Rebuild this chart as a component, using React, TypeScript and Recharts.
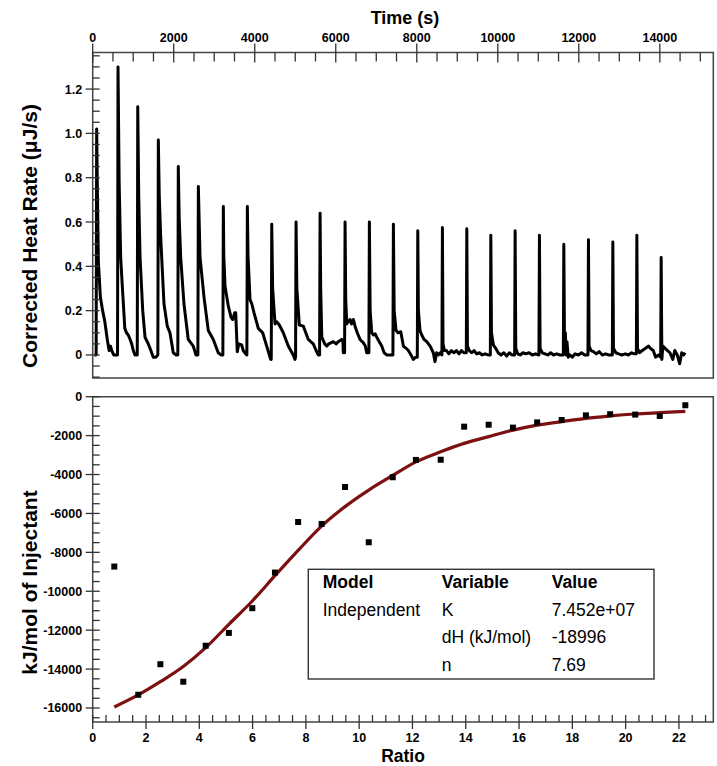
import React from 'react';
import { LineChart, Line, XAxis, YAxis, ReferenceArea, ComposedChart, Scatter } from 'recharts';

// ---------- Top panel: raw thermogram ----------
// peak (injection) times in seconds
const injectionTimes = [
  98, 625, 1112, 1620, 2113, 2608, 3225, 3818, 4420, 5020, 5613, 6230, 6830,
  7423, 8025, 8633, 9235, 9828, 10428, 11028, 11630, 12238, 12840, 13433, 14033,
];
// trace around each injection: [seconds relative to peak, heat rate µJ/s]
const injectionProfiles: number[][][] = [
  [[-58, 0], [-13, 0], [0, 1.02], [17, 0.75], [42, 0.42], [92, 0.26], [147, 0.2], [202, 0.15], [262, 0.07], [307, 0.02], [342, 0.04], [372, 0.02], [422, 0.0], [500, 0.0]],
  [[-12, 0], [0, 1.3], [28, 0.78], [66, 0.44], [106, 0.31], [168, 0.12], [208, 0.1], [253, 0.09], [298, 0.07], [338, 0.05], [378, 0.02], [418, 0.0], [460, 0.0]],
  [[-12, 0], [0, 1.12], [24, 0.72], [57, 0.44], [123, 0.2], [180, 0.08], [260, 0.05], [324, 0.02], [383, -0.01], [450, -0.01], [494, 0.0]],
  [[-12, 0], [0, 0.97], [23, 0.72], [59, 0.53], [140, 0.23], [221, 0.13], [287, 0.1], [369, 0.01], [440, 0.0], [475, 0.0]],
  [[-12, 0], [0, 0.85], [22, 0.62], [59, 0.44], [140, 0.23], [246, 0.07], [369, 0.04], [437, 0.0], [480, 0.0]],
  [[-12, 0], [0, 0.76], [42, 0.44], [140, 0.26], [246, 0.11], [369, 0.07], [491, 0.01], [558, 0.0], [600, 0.0]],
  [[-12, 0], [0, 0.67], [11, 0.45], [42, 0.31], [123, 0.22], [191, 0.17], [231, 0.16], [281, 0.19], [305, 0.19], [344, 0.015], [381, 0.05], [452, 0.045], [491, 0.02], [533, 0.01], [578, 0.0]],
  [[-12, 0], [0, 0.67], [16, 0.45], [66, 0.25], [111, 0.23], [165, 0.19], [270, 0.12], [378, 0.1], [477, 0.04], [575, -0.02], [588, -0.02]],
  [[-12, -0.01], [0, 0.59], [22, 0.3], [81, 0.14], [122, 0.15], [187, 0.135], [285, 0.1], [408, 0.04], [531, 0.0], [573, -0.02], [585, -0.01]],
  [[-12, -0.01], [0, 0.6], [20, 0.3], [81, 0.135], [180, 0.13], [302, 0.07], [425, 0.05], [495, 0.02], [548, 0.0], [578, 0.0]],
  [[-12, 0], [0, 0.64], [15, 0.3], [42, 0.08], [115, 0.05], [165, 0.04], [215, 0.05], [327, 0.06], [395, 0.05], [450, 0.06], [533, 0.07], [565, 0.06], [573, 0.01], [602, 0.01]],
  [[-12, 0.01], [0, 0.6], [16, 0.25], [41, 0.14], [81, 0.15], [123, 0.16], [161, 0.14], [205, 0.16], [246, 0.13], [301, 0.1], [369, 0.07], [451, 0.055], [501, 0.04], [533, 0.01], [585, 0.01]],
  [[-12, 0.01], [0, 0.6], [19, 0.2], [59, 0.1], [104, 0.09], [144, 0.095], [182, 0.08], [244, 0.06], [305, 0.04], [364, 0.01], [428, 0.0], [550, 0.0], [578, 0.0]],
  [[-12, 0], [0, 0.59], [19, 0.2], [66, 0.11], [114, 0.1], [182, 0.105], [246, 0.04], [314, 0.03], [369, 0.02], [434, 0.0], [491, -0.02], [554, -0.01], [587, -0.01]],
  [[-12, -0.01], [0, 0.56], [15, 0.2], [55, 0.11], [98, 0.09], [155, 0.07], [221, 0.06], [305, 0.04], [383, 0.01], [425, -0.03], [465, 0.01], [506, 0.0], [555, 0.01], [593, 0.0]],
  [[-12, 0], [0, 0.575], [15, 0.05], [50, 0.02], [100, 0.02], [160, 0.005], [220, 0.02], [280, 0.01], [345, 0.02], [410, 0.005], [470, 0.02], [530, 0.01], [587, 0.01]],
  [[-12, 0.01], [0, 0.57], [16, 0.04], [61, 0.02], [121, 0.01], [181, 0.02], [241, 0.005], [311, 0.01], [381, 0.0], [451, 0.005], [521, 0.0], [578, 0.0]],
  [[-12, 0], [0, 0.54], [16, 0.1], [64, 0.045], [121, 0.03], [181, 0.01], [251, 0.0], [321, 0.01], [391, -0.005], [461, 0.01], [521, 0.0], [585, 0.0]],
  [[-12, 0], [0, 0.56], [16, 0.03], [64, 0.005], [124, 0.0], [194, 0.01], [264, 0.005], [344, 0.01], [424, 0.0], [504, 0.005], [585, 0.0]],
  [[-12, 0], [0, 0.54], [17, 0.03], [67, 0.01], [137, 0.005], [207, 0.0], [277, 0.01], [347, 0.0], [427, 0.005], [507, 0.0], [587, 0.0]],
  [[-12, 0], [0, 0.5], [18, 0.02], [38, 0.1], [58, 0.0], [78, 0.06], [108, -0.01], [148, 0.0], [208, -0.01], [278, 0.005], [358, 0.0], [438, 0.01], [518, 0.0], [593, 0.0]],
  [[-12, 0], [0, 0.52], [16, 0.04], [63, 0.02], [123, 0.015], [193, 0.005], [263, 0.015], [343, 0.0], [423, 0.005], [503, 0.0], [587, 0.0]],
  [[-12, 0], [0, 0.51], [16, 0.03], [74, 0.01], [144, 0.005], [224, 0.0], [304, 0.005], [384, 0.0], [464, 0.01], [524, 0.005], [578, 0.005]],
  [[-12, 0.005], [0, 0.54], [16, 0.03], [64, 0.01], [134, 0.02], [214, 0.03], [285, 0.04], [334, 0.03], [404, 0.02], [464, -0.01], [534, 0.0], [586, -0.01]],
  [[-12, -0.01], [0, 0.44], [17, -0.02], [42, 0.04], [97, 0.03], [157, 0.02], [217, 0.01], [287, -0.02], [337, 0.02], [397, 0.0], [457, -0.04], [507, 0.01], [557, 0.0], [593, 0.01]],
];

// ---------- Bottom panel: integrated heats ----------
const ratioValues = [0.81, 1.71, 2.54, 3.4, 4.24, 5.11, 5.99, 6.84, 7.71, 8.59, 9.47, 10.36, 11.26, 12.13, 13.06, 13.94, 14.86, 15.77, 16.68, 17.6, 18.51, 19.42, 20.36, 21.28, 22.24];
const heatValues = [-8730, -15320, -13750, -14650, -12800, -12140, -10870, -9040, -6440, -6540, -4640, -7480, -4140, -3250, -3240, -1540, -1440, -1590, -1320, -1200, -960, -900, -920, -990, -440];
const fitValues = [-15950, -15330, -14650, -13870, -12900, -11700, -10500, -9200, -7900, -6650, -5650, -4800, -4050, -3350, -2830, -2400, -2050, -1720, -1460, -1280, -1110, -990, -890, -820, -750];

// ---------- Axes ----------
const timeMajorTicks = [0, 2000, 4000, 6000, 8000, 10000, 12000, 14000];
const rateMajorTicks = [0, 0.2, 0.4, 0.6, 0.8, 1.0, 1.2];
const ratioMajorTicks = [0, 2, 4, 6, 8, 10, 12, 14, 16, 18, 20, 22];
const heatMajorTicks = [0, -2000, -4000, -6000, -8000, -10000, -12000, -14000, -16000];

const timeDomain = [0, 15320];
const rateDomain = [-0.104, 1.365];
const ratioDomain = [0, 23.29];
const heatDomain = [-16720, 0];

const tableHeader = ['Model', 'Variable', 'Value'];
const tableRows = [
  ['Independent', 'K', '7.452e+07'],
  ['', 'dH (kJ/mol)', '-18996'],
  ['', 'n', '7.69'],
];

const range = (from: number, to: number, step: number) => {
  const out: number[] = [];
  const n = Math.round((to - from) / step);
  for (let i = 0; i <= n; i++) out.push(Math.round((from + i * step) * 1000) / 1000);
  return out;
};
const timeTicks = range(0, 15000, 500);
const rateTicks = range(-0.1, 1.35, 0.05);
const ratioTicks = range(0, 23, 0.5);
const heatTicks = range(-16500, 0, 500);

const traceData = injectionTimes.flatMap((t0, i) =>
  injectionProfiles[i].map(([dt, v]) => ({ t: t0 + dt, v }))
);
const pointData = ratioValues.map((r, i) => ({ r, v: heatValues[i] }));
const fitData = ratioValues.map((r, i) => ({ r, v: fitValues[i] }));

const FONT = '"Liberation Sans", Arial, Helvetica, sans-serif';
const TICK = '#333';

const isMajor = (arr: number[], v: number) => arr.some((m) => Math.abs(m - v) < 1e-6);

function makeTick(side: 'top' | 'left' | 'bottom', majors: number[], fmt: (v: number) => string) {
  return (props: any) => {
    const { x, y, payload } = props;
    const v = payload.value;
    const major = isMajor(majors, v);
    const textStyle = { fontFamily: FONT, fontWeight: 700, fontSize: 12.5, fill: '#000' } as any;
    if (side === 'top') {
      return (
        <g>
          {major ? <line x1={x} x2={x} y1={y - 9} y2={y + 10} stroke={TICK} strokeWidth={1.3} /> : <line x1={x} x2={x} y1={y} y2={y + 9} stroke={TICK} strokeWidth={1.3} />}
          {major && <text x={x} y={y - 11} textAnchor="middle" style={textStyle}>{fmt(v)}</text>}
        </g>
      );
    }
    if (side === 'left') {
      return (
        <g>
          {major ? <line x1={x - 7} x2={x + 7} y1={y} y2={y} stroke={TICK} strokeWidth={1.3} /> : <line x1={x} x2={x + 7} y1={y} y2={y} stroke={TICK} strokeWidth={1.3} />}
          {major && <text x={x - 10.5} y={y + 4.5} textAnchor="end" style={textStyle}>{fmt(v)}</text>}
        </g>
      );
    }
    return (
      <g>
        {major ? <line x1={x} x2={x} y1={y - 7} y2={y + 7} stroke={TICK} strokeWidth={1.3} /> : <line x1={x} x2={x} y1={y - 7} y2={y} stroke={TICK} strokeWidth={1.3} />}
        {major && <text x={x} y={y + 20} textAnchor="middle" style={textStyle}>{fmt(v)}</text>}
      </g>
    );
  };
}

const timeTick = makeTick('top', timeMajorTicks, (v) => String(v));
const rateTick = makeTick('left', rateMajorTicks, (v) => (v === 0 ? '0' : v.toFixed(1)));
const ratioTick = makeTick('bottom', ratioMajorTicks, (v) => String(v));
const heatTick = makeTick('left', heatMajorTicks, (v) => String(v));

const squareShape = (p: any) => <rect x={p.cx - 3} y={p.cy - 3} width={6} height={6} fill="#000" />;

export default function App() {
  const titleStyle = { fontFamily: FONT, fontWeight: 700, fill: '#000' } as any;
  const tableStyle = { fontFamily: FONT, fontSize: 17.5, fill: '#000' } as any;
  const colX = [322.7, 441.7, 551.7];
  const rowY = [588, 615.5, 643, 670.5];
  return (
    <div style={{ position: 'absolute', left: 0, top: 0, width: 717, height: 766, background: '#fff' }}>
      <div style={{ position: 'absolute', left: 0, top: 0 }}>
        <LineChart width={717} height={385} data={traceData} margin={{ top: 22.5, right: 3.7, bottom: 7, left: 32.7 }}>
          <XAxis type="number" dataKey="t" orientation="top" domain={timeDomain} ticks={timeTicks} interval={0} height={30}
            tickSize={0} tickMargin={0} axisLine={false} tickLine={false} tick={timeTick} allowDataOverflow />
          <YAxis type="number" domain={rateDomain} ticks={rateTicks} interval={0} width={60}
            tickSize={0} tickMargin={0} axisLine={false} tickLine={false} tick={rateTick} allowDataOverflow />
          <ReferenceArea x1={timeDomain[0]} x2={timeDomain[1]} y1={rateDomain[0]} y2={rateDomain[1]} fill="none" fillOpacity={0} stroke="#444" strokeWidth={1.5} />
          <Line dataKey="v" type="linear" stroke="#000" strokeWidth={3} strokeLinejoin="round" dot={false} isAnimationActive={false} />
        </LineChart>
      </div>
      <div style={{ position: 'absolute', left: 0, top: 385 }}>
        <ComposedChart width={717} height={381} margin={{ top: 11.7, right: 3.7, bottom: 14, left: 32.7 }}>
          <XAxis type="number" dataKey="r" orientation="bottom" domain={ratioDomain} ticks={ratioTicks} interval={0} height={30}
            tickSize={0} tickMargin={0} axisLine={false} tickLine={false} tick={ratioTick} allowDataOverflow />
          <YAxis type="number" dataKey="v" domain={heatDomain} ticks={heatTicks} interval={0} width={60}
            tickSize={0} tickMargin={0} axisLine={false} tickLine={false} tick={heatTick} allowDataOverflow />
          <ReferenceArea x1={ratioDomain[0]} x2={ratioDomain[1]} y1={heatDomain[0]} y2={heatDomain[1]} fill="none" fillOpacity={0} stroke="#444" strokeWidth={1.5} />
          <Line data={fitData} dataKey="v" type="monotone" stroke="#7d1010" strokeWidth={3.2} dot={false} isAnimationActive={false} />
          <Scatter data={pointData} dataKey="v" shape={squareShape} isAnimationActive={false} />
        </ComposedChart>
      </div>
      <svg width={717} height={766} style={{ position: 'absolute', left: 0, top: 0, pointerEvents: 'none' }}>
        <text x={405} y={24} textAnchor="middle" style={{ ...titleStyle, fontSize: 18 }}>Time (s)</text>
        <text x={37} y={236} transform="rotate(-90, 37, 236)" textAnchor="middle" style={{ ...titleStyle, fontSize: 21 }}>Corrected Heat Rate (μJ/s)</text>
        <text x={37} y={582.5} transform="rotate(-90, 37, 582.5)" textAnchor="middle" style={{ ...titleStyle, fontSize: 21 }}>kJ/mol of Injectant</text>
        <text x={403} y={762} textAnchor="middle" style={{ ...titleStyle, fontSize: 17.5 }}>Ratio</text>
        <rect x={308.3} y={569.3} width={345.7} height={109.7} fill="#fff" stroke="#333" strokeWidth={1.4} />
        {tableHeader.map((h, i) => (
          <text key={'h' + i} x={colX[i]} y={rowY[0]} style={{ ...tableStyle, fontWeight: 700 }}>{h}</text>
        ))}
        {tableRows.map((row, r) =>
          row.map((cell, c) => (
            <text key={r + '-' + c} x={colX[c]} y={rowY[r + 1]} style={tableStyle}>{cell}</text>
          ))
        )}
      </svg>
    </div>
  );
}
